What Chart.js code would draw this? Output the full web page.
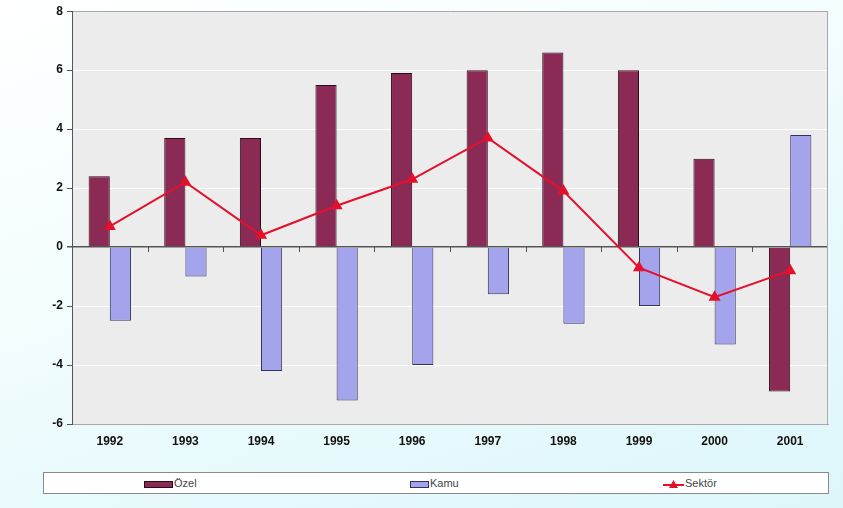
<!DOCTYPE html>
<html>
<head>
<meta charset="utf-8">
<script src="https://cdn.jsdelivr.net/npm/chart.js@4.4.1/dist/chart.umd.min.js"></script>
<style>
  html, body { margin: 0; padding: 0; }
  body {
    width: 843px; height: 508px; overflow: hidden; position: relative;
    background: linear-gradient(160deg, #ffffff 0%, #f4fdfe 35%, #dcf6fa 100%);
    font-family: Arial, "Liberation Sans", sans-serif;
  }
  #wrap { position: absolute; left: 0; top: 0; width: 843px; height: 460px; }
  #legend {
    position: absolute; left: 43px; top: 472px; width: 784px; height: 20px;
    background: #fff; border: 1px solid #8a8a8a; font-size: 11px; color: #444;
  }
  .item { position: absolute; top: 3px; line-height: 14px; white-space: nowrap; }
  .sw { display: inline-block; vertical-align: middle; margin-right: 1px; }
</style>
</head>
<body>
<div id="wrap"><canvas id="myChart"></canvas></div>
<div id="legend"></div>
<script>
// years on the x axis
const years = ["1992", "1993", "1994", "1995", "1996", "1997", "1998", "1999", "2000", "2001"];
// values
const ozel = [2.4, 3.7, 3.7, 5.5, 5.9, 6.0, 6.6, 6.0, 3.0, -4.9];
const kamu = [-2.5, -1.0, -4.2, -5.2, -4.0, -1.6, -2.6, -2.0, -3.3, 3.8];
const sektor = [0.7, 2.2, 0.4, 1.4, 2.3, 3.7, 1.9, -0.7, -1.7, -0.8];
const seriesNames = ["Özel", "Kamu", "Sektör"];
const yTicks = [8, 6, 4, 2, 0, -2, -4, -6];

const ozelColor = "#8a2a55";
const kamuColor = "#a4a4ec";
const lineColor = "#e4102c";

// grey plot background, right border and the little ticks on the zero line
const plotBack = {
  id: "plotBack",
  beforeDraw(chart) {
    const { ctx, chartArea: a } = chart;
    ctx.save();
    ctx.fillStyle = "#ececec";
    ctx.fillRect(a.left, a.top, a.right - a.left, a.bottom - a.top);
    ctx.restore();
  },
  beforeDatasetsDraw(chart) {
    const { ctx, chartArea: a, scales } = chart;
    ctx.save();
    ctx.strokeStyle = "#a8a8a8";
    ctx.lineWidth = 1;
    ctx.beginPath();
    ctx.moveTo(a.right - 0.5, a.top);
    ctx.lineTo(a.right - 0.5, a.bottom);
    ctx.stroke();

    // category boundary ticks hanging under the zero line
    const x = scales.x;
    const y0 = Math.round(scales.y.getPixelForValue(0));
    const half = (x.getPixelForValue(1) - x.getPixelForValue(0)) / 2;
    ctx.strokeStyle = "#555";
    ctx.beginPath();
    for (let i = 1; i < years.length; i++) {
      const px = Math.round(x.getPixelForValue(i) - half) + 0.5;
      ctx.moveTo(px, y0);
      ctx.lineTo(px, y0 + 5);
    }
    ctx.stroke();
    ctx.restore();
  }
};

const data = {
  labels: years,
  datasets: [
    {
      type: "line",
      label: seriesNames[2],
      data: sektor,
      borderColor: lineColor,
      backgroundColor: lineColor,
      borderWidth: 2,
      pointStyle: "triangle",
      pointRadius: 5,
      tension: 0,
      order: 0
    },
    {
      type: "bar",
      label: seriesNames[0],
      data: ozel,
      backgroundColor: ozelColor,
      borderColor: "#2a0c18",
      borderWidth: 1,
      order: 1
    },
    {
      type: "bar",
      label: seriesNames[1],
      data: kamu,
      backgroundColor: kamuColor,
      borderColor: "#33335a",
      borderWidth: 1,
      order: 1
    }
  ]
};

const config = {
  type: "bar",
  data: data,
  options: {
    responsive: true,
    maintainAspectRatio: false,
    animation: false,
    layout: { padding: { top: 8, right: 15, left: 0, bottom: 0 } },
    datasets: { bar: { categoryPercentage: 0.56, barPercentage: 1.0 } },
    plugins: { legend: { display: false }, tooltip: { enabled: false } },
    scales: {
      x: {
        grid: { color: "rgba(0,0,0,0)", drawTicks: false },
        border: { color: "#a8a8a8" },
        ticks: { color: "#111", padding: 10, font: { family: "Arial", size: 12, weight: "bold" } },
        afterFit(scale) { scale.height = 36; }
      },
      y: {
        min: -6,
        max: 8,
        afterBuildTicks(scale) { scale.ticks = yTicks.map(v => ({ value: v })); },
        grid: {
          color(c) {
            const v = c.tick.value;
            if (v === 0) return "#555";
            if (v === 8 || v === -6) return "#a8a8a8";
            return "#ffffff";
          },
          lineWidth(c) { return c.tick.value === 0 ? 1.5 : 1; },
          tickLength: 5,
          tickColor: "#555"
        },
        border: { color: "#555" },
        ticks: { color: "#111", padding: 4, font: { family: "Arial", size: 12, weight: "bold" } },
        afterFit(scale) { scale.width = 72; }
      }
    }
  },
  plugins: [plotBack]
};

const ctx = document.getElementById("myChart");
const myChart = new Chart(ctx, config);

// legend under the chart, built from the series names
const legend = document.getElementById("legend");
const legendItems = [
  { name: seriesNames[0], left: 100, html: `<span class="sw" style="width:27px;height:5px;background:${ozelColor};border:1px solid #2a0c18"></span>` },
  { name: seriesNames[1], left: 366, html: `<span class="sw" style="width:17px;height:5px;background:${kamuColor};border:1px solid #33335a"></span>` },
  { name: seriesNames[2], left: 619, html: `<svg class="sw" width="21" height="9"><line x1="0" y1="5" x2="21" y2="5" stroke="${lineColor}" stroke-width="2"/><polygon points="10.5,0 15,8 6,8" fill="${lineColor}"/></svg>` }
];
legendItems.forEach(it => {
  const d = document.createElement("div");
  d.className = "item";
  d.style.left = it.left + "px";
  d.innerHTML = it.html + it.name;
  legend.appendChild(d);
});
</script>
</body>
</html>
